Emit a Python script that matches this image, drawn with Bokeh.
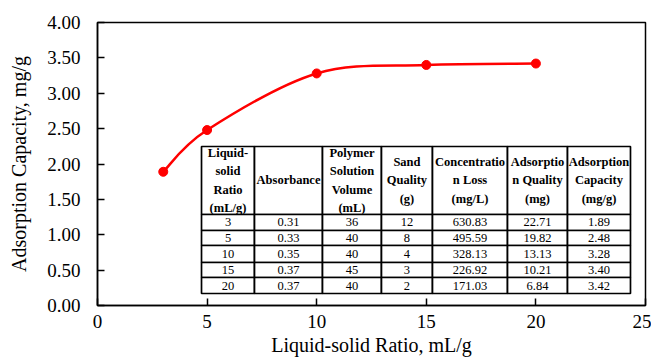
from bokeh.plotting import figure
from bokeh.models import FixedTicker, NumeralTickFormatter, Range1d
from bokeh.core.properties import value
from bokeh.embed import file_html
from bokeh.resources import INLINE

# ---- data ----
ratio = [3, 5, 10, 15, 20]
capacity = [1.89, 2.48, 3.28, 3.40, 3.42]

table_headers = ["Liquid-\nsolid\nRatio\n(mL/g)", "Absorbance", "Polymer\nSolution\nVolume\n(mL)",
                 "Sand\nQuality\n(g)", "Concentratio\nn Loss\n(mg/L)", "Adsorptio\nn Quality\n(mg)",
                 "Adsorption\nCapacity\n(mg/g)"]
col_ratio = ["3", "5", "10", "15", "20"]
col_absorbance = ["0.31", "0.33", "0.35", "0.37", "0.37"]
col_volume = ["36", "40", "40", "45", "40"]
col_sand = ["12", "8", "4", "3", "2"]
col_conc_loss = ["630.83", "495.59", "328.13", "226.92", "171.03"]
col_ads_quality = ["22.71", "19.82", "13.13", "10.21", "6.84"]
col_ads_capacity = ["1.89", "2.48", "3.28", "3.40", "3.42"]

x_ticks = [0, 5, 10, 15, 20, 25]
y_ticks = [0, 0.5, 1.0, 1.5, 2.0, 2.5, 3.0, 3.5, 4.0]

# ---- layout constants ----
X0, X1 = 0, 25
Y0, Y1 = 0, 4
FONT = "Liberation Serif"
RED = "#FF0000"
# table geometry as fractions of the plot frame
col_edges_frac = [0.1898, 0.2865, 0.4106, 0.5182, 0.6113, 0.7482, 0.8577, 0.9726]
row_edges_frac = [0.5618, 0.3216, 0.2650, 0.2120, 0.1519, 0.0989, 0.0424]

p = figure(width=651, height=359, output_backend="svg", toolbar_location=None,
           x_range=Range1d(X0, X1), y_range=Range1d(Y0, Y1),
           min_border_left=97, min_border_right=6, min_border_top=22, min_border_bottom=54,
           background_fill_color="white", border_fill_color="white")
p.grid.visible = False
p.outline_line_color = "black"
p.outline_line_width = 1.5

for ax in (p.xaxis[0], p.yaxis[0]):
    ax.axis_line_color = "black"
    ax.axis_line_width = 1.5
    ax.major_tick_line_color = "black"
    ax.major_tick_line_width = 1.5
    ax.major_tick_in = 7
    ax.major_tick_out = 0
    ax.minor_tick_line_color = None
    ax.major_label_text_font = FONT
    ax.major_label_text_font_size = "19px"
    ax.major_label_text_color = "black"
    ax.axis_label_text_font = FONT
    ax.axis_label_text_font_size = "20px"
    ax.axis_label_text_font_style = "normal"
    ax.axis_label_text_color = "black"

p.xaxis.ticker = FixedTicker(ticks=x_ticks)
p.yaxis.ticker = FixedTicker(ticks=y_ticks)
p.yaxis.formatter = NumeralTickFormatter(format="0.00")
p.xaxis.axis_label = "Liquid-solid Ratio, mL/g"
p.yaxis.axis_label = "Adsorption Capacity, mg/g"
p.yaxis.major_label_standoff = 17
p.yaxis.axis_label_standoff = 14
p.xaxis.major_label_standoff = 9
p.xaxis.axis_label_standoff = 3

# ---- table ----
xe = [X0 + f * (X1 - X0) for f in col_edges_frac]
ye = [Y0 + f * (Y1 - Y0) for f in row_edges_frac]
columns = [col_ratio, col_absorbance, col_volume, col_sand, col_conc_loss, col_ads_quality, col_ads_capacity]

L, R, T, B = [], [], [], []
for r in range(len(ye) - 1):
    for c in range(len(xe) - 1):
        L.append(xe[c]); R.append(xe[c + 1]); T.append(ye[r]); B.append(ye[r + 1])
p.quad(left=L, right=R, top=T, bottom=B, fill_color="white", line_color="black", line_width=1.7)

cx = [(xe[c] + xe[c + 1]) / 2 for c in range(len(xe) - 1)]
p.text(x=cx, y=[(ye[0] + ye[1]) / 2] * len(cx), text=table_headers,
       text_font=value(FONT), text_font_style="bold", text_font_size="12.5px",
       text_align="center", text_baseline="middle", text_line_height=1.3, text_color="black")
tx, ty, tt = [], [], []
for r in range(len(col_ratio)):
    yc = (ye[r + 1] + ye[r + 2]) / 2
    for c, col in enumerate(columns):
        tx.append(cx[c]); ty.append(yc); tt.append(col[r])
p.text(x=tx, y=ty, text=tt, text_font=value(FONT), text_font_size="12.5px",
       text_align="center", text_baseline="middle", text_color="black")

# ---- smoothed line through the data (Bezier segments) ----
n = len(ratio)
bx0, by0, bx1, by1, c0x, c0y, c1x, c1y = [], [], [], [], [], [], [], []
for i in range(n - 1):
    px0, py0 = ratio[i], capacity[i]
    px1, py1 = ratio[i + 1], capacity[i + 1]
    prx, pry = (ratio[i - 1], capacity[i - 1]) if i > 0 else (px0, py0)
    nxx, nxy = (ratio[i + 2], capacity[i + 2]) if i + 2 < n else (px1, py1)
    bx0.append(px0); by0.append(py0); bx1.append(px1); by1.append(py1)
    c0x.append(px0 + (px1 - prx) / 6); c0y.append(py0 + (py1 - pry) / 6)
    c1x.append(px1 - (nxx - px0) / 6); c1y.append(py1 - (nxy - py0) / 6)
p.bezier(x0=bx0, y0=by0, x1=bx1, y1=by1, cx0=c0x, cy0=c0y, cx1=c1x, cy1=c1y,
         line_color=RED, line_width=2.5)
p.scatter(ratio, capacity, size=9, fill_color=RED, line_color=RED)

open("out.html", "w").write(file_html(p, INLINE))
